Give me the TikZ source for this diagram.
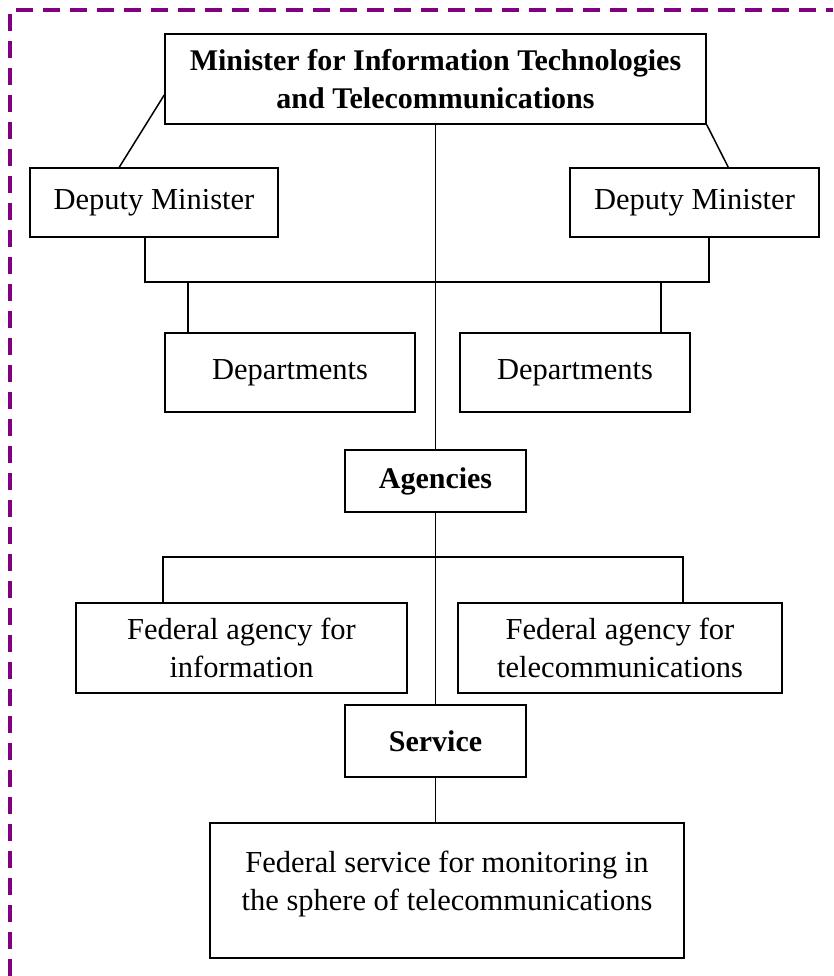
\documentclass[tikz,border=0pt]{standalone}
\usepackage{fontspec}
\setmainfont{Liberation Serif}
\usetikzlibrary{calc}
\definecolor{framepurple}{RGB}{128,0,128}
\tikzset{
  box/.style={draw, line width=1.5pt, align=center, inner sep=0pt,
    font=\fontsize{30.5}{38}\selectfont},
  boldbox/.style={box, font=\fontsize{30}{38}\selectfont\bfseries},
  link/.style={line width=1.5pt},
  frame/.style={framepurple, line width=3.5pt, dash pattern=on 17pt off 10pt}
}
\begin{document}
\begin{tikzpicture}[x=1pt, y=-1pt]

    \useasboundingbox (0,0) rectangle (833,976);

    % Dashed frame
    \draw[frame] (10,976) -- (10,10) -- (833,10);

    % Boxes
    \node[boldbox, minimum width=541, minimum height=90] (minister) at (435.5,79)
        {Minister for Information Technologies\\and Telecommunications};
    \node[box, minimum width=248, minimum height=69] (depL) at (154,202.5) {Deputy Minister};
    \node[box, minimum width=249, minimum height=69] (depR) at (694.5,202.5) {Deputy Minister};
    \node[box, minimum width=250, minimum height=79] (deptL) at (290,372.5) {Departments};
    \node[box, minimum width=230, minimum height=79] (deptR) at (575,372.5) {Departments};
    \node[boldbox, minimum width=181, minimum height=62] (agencies) at (435.5,481) {Agencies};
    \node[box, minimum width=331, minimum height=90] (fedInfo) at (241.5,648)
        {Federal agency for\\information};
    \node[box, minimum width=324, minimum height=90] (fedTel) at (620,648)
        {Federal agency for\\telecommunications};
    \node[boldbox, minimum width=181, minimum height=72] (service) at (435.5,741) {Service};
    \node[box, minimum width=474, minimum height=135] (fedServ) at (447,890.5)
        {Federal service for monitoring in\\the sphere of telecommunications\\[-18pt]\rule{0pt}{0pt}};

    % Bus points
    \coordinate (busL) at (145,282);
    \coordinate (busR) at (709,282);
    \coordinate (tapL) at (188,282);
    \coordinate (tapR) at (661,282);
    \coordinate (agBusL) at (163,557);
    \coordinate (agBusR) at (683,557);

    % Connectors
    \draw[link] ($(minister.west)+(0,16)$) -- ($(depL.north west)+(90,0)$);
    \draw[link] (minister.south east) -- ($(depR.north west)+(159,0)$);
    \draw[link] (minister.south) -- (agencies.north);
    \draw[link] (busL |- depL.south) -- (busL) -- (busR) -- (busR |- depR.south);
    \draw[link] (tapL) -- (tapL |- deptL.north);
    \draw[link] (tapR) -- (tapR |- deptR.north);
    \draw[link] (agBusL |- fedInfo.north) -- (agBusL) -- (agBusR) -- (agBusR |- fedTel.north);
    \draw[link] (agencies.south) -- (service.north);
    \draw[link] (service.south) -- (service.south |- fedServ.north);

\end{tikzpicture}
\end{document}
